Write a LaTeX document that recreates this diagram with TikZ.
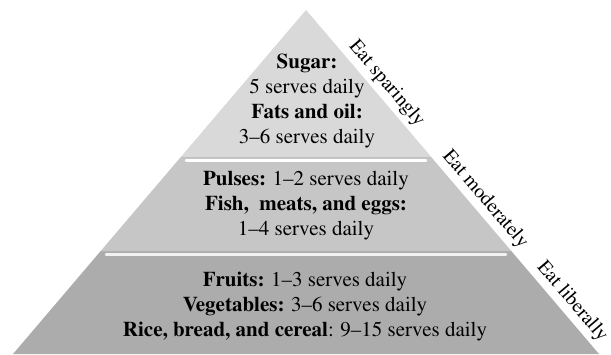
\documentclass[tikz,border=0pt]{standalone}
\usepackage[T1]{fontenc}
\usepackage{mathptmx}
\begin{document}
\begin{tikzpicture}[x=1pt,y=-1pt,
        tier/.style={align=center, font=\fontsize{21}{25}\selectfont},
        advice/.style={sloped, above=1pt, font=\fontsize{20}{20}\selectfont}]
    \useasboundingbox (0,0) rectangle (611,354);
    \coordinate (apex) at (306,10);
    \coordinate (base) at (599,354);
    % layers, bottom to top
    \fill[gray!65] (13,354) -- (100.7,251) -- (511.3,251) -- (base) -- cycle;
    \fill[gray!45] (100.7,251) -- (180.8,157) -- (431.2,157) -- (511.3,251) -- cycle;
    \fill[gray!30] (180.8,157) -- (apex) -- (431.2,157) -- cycle;
    \draw[white!70!gray, densely dotted] (apex) -- (431.2,157);
    % bevels
    \draw[gray!50, line width=1pt] (182,157.5) -- (430,157.5);
    \draw[gray!60, line width=1pt] (102,251.5) -- (510,251.5);
    \draw[white, line width=2.5pt, line cap=round] (186,160.5) -- (426,160.5);
    \draw[white!90!gray, line width=2.5pt, line cap=round] (106,254.5) -- (506,254.5);
    % food groups
    \node[tier] (sugar) at (307,101) {\textbf{Sugar:}\\5 serves daily\\\textbf{Fats and oil:}\\3--6 serves daily};
    \node[tier] (pulses) at (306,206) {\textbf{Pulses:} 1--2 serves daily\\\textbf{Fish,~ meats, and eggs:}\\1--4 serves daily};
    \node[tier] (fruits) at (305,307) {\textbf{Fruits:} 1--3 serves daily\\\textbf{Vegetables:} 3--6 serves daily\\\textbf{Rice, bread, and cereal}: 9--15 serves daily};
    % advice along the side
    \path (apex) -- node[advice, pos=0.24] (sparingly) {Eat sparingly}
        node[advice, pos=0.576] (moderately) {Eat moderately}
        node[advice, pos=0.873] (liberally) {Eat liberally} (base);
\end{tikzpicture}
\end{document}
